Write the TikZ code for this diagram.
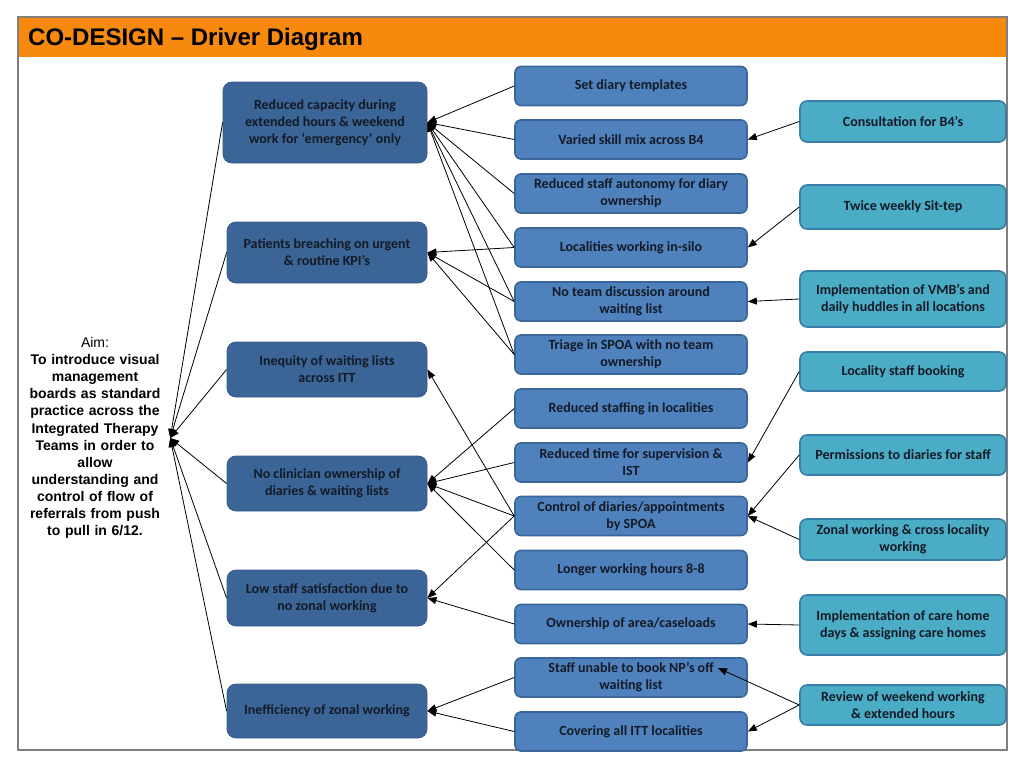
\documentclass[tikz,border=0pt]{standalone}
\usepackage{fontspec}
\setmainfont{Carlito}
\newfontfamily\arialf{Liberation Sans}
\usetikzlibrary{arrows.meta}
\definecolor{orangebar}{HTML}{F7890E}
\definecolor{primfill}{HTML}{3B6597}
\definecolor{primdraw}{HTML}{375D8C}
\definecolor{secfill}{HTML}{4F81BD}
\definecolor{secdraw}{HTML}{3A6699}
\definecolor{chgfill}{HTML}{4BACC6}
\definecolor{chgdraw}{HTML}{3A7DA8}
\definecolor{txt}{HTML}{141A26}
\definecolor{framegray}{HTML}{7F7F7F}
\begin{document}
\begin{tikzpicture}[x=1pt,y=-1pt,
 boxtext/.style={font=\fontsize{14}{17}\selectfont\bfseries, text=txt, align=center, inner sep=0pt},
 prim/.style={boxtext, rounded corners=9pt, fill=primfill, draw=primdraw, line width=0.8pt, minimum width=200pt},
 sec/.style={boxtext, rounded corners=6pt, fill=secfill, draw=secdraw, line width=1.6pt, minimum width=232pt, minimum height=39pt},
 chg/.style={boxtext, rounded corners=7pt, fill=chgfill, draw=chgdraw, line width=1.6pt, minimum width=206pt},
 conn/.style={draw=black, line width=0.8pt, -{Triangle[length=9pt,width=7pt]}},
]
\useasboundingbox (0,0) rectangle (1024,768);
\fill[white] (0,0) rectangle (1024,768);
\node[fill=orangebar, minimum width=989pt, minimum height=40pt, inner sep=0pt, anchor=north west] (bar) at (18,17) {};
\node[anchor=west, inner sep=0pt, font=\arialf\fontsize{24}{28}\selectfont\bfseries] (title) at (28,39.5) {CO-DESIGN – Driver Diagram};
\draw[framegray, line width=1.2pt] (18,17) rectangle (1007,750);

% Aim
\node[align=center, font=\arialf\fontsize{14}{17.1}\selectfont, inner sep=0pt, text width=150pt] (aim) at (95,438)
 {Aim:\\ \textbf{To introduce visual}\\ \textbf{management}\\ \textbf{boards as standard}\\ \textbf{practice across the}\\ \textbf{Integrated Therapy}\\ \textbf{Teams in order to}\\ \textbf{allow}\\ \textbf{understanding and}\\ \textbf{control of flow of}\\ \textbf{referrals from push}\\ \textbf{to pull in 6/12.}};

% Primary drivers
\node[prim, minimum width=204pt, minimum height=81pt] (P1) at (325,122.5) {Reduced capacity during\\ extended hours \& weekend\\ work for ‘emergency’ only};
\node[prim, minimum height=61pt] (P2) at (327,252.5) {Patients breaching on urgent\\ \& routine KPI’s};
\node[prim, minimum height=55pt] (P3) at (327,369.5) {Inequity of waiting lists\\ across ITT};
\node[prim, minimum height=55pt] (P4) at (327,483.5) {No clinician ownership of\\ diaries \& waiting lists};
\node[prim, minimum height=56pt] (P5) at (327,598) {Low staff satisfaction due to\\ no zonal working};
\node[prim, minimum height=54pt] (P6) at (327,711) {Inefficiency of zonal working};

% Secondary drivers
\node[sec] (S1) at (631,86) {Set diary templates};
\node[sec] (S2) at (631,139.5) {Varied skill mix across B4};
\node[sec] (S3) at (631,193.5) {Reduced staff autonomy for diary\\ ownership};
\node[sec] (S4) at (631,247.5) {Localities working in-silo};
\node[sec] (S5) at (631,301.5) {No team discussion around\\ waiting list};
\node[sec] (S6) at (631,354.5) {Triage in SPOA with no team\\ ownership};
\node[sec] (S7) at (631,408.5) {Reduced staffing in localities};
\node[sec] (S8) at (631,462.5) {Reduced time for supervision \&\\ IST};
\node[sec] (S9) at (631,516) {Control of diaries/appointments\\ by SPOA};
\node[sec] (S10) at (631,570) {Longer working hours 8-8};
\node[sec] (S11) at (631,624) {Ownership of area/caseloads};
\node[sec] (S12) at (631,677.5) {Staff unable to book NP’s off\\ waiting list};
\node[sec] (S13) at (631,731.5) {Covering all ITT localities};

% Change ideas
\node[chg, minimum height=41pt] (C1) at (903,121.5) {Consultation for B4’s};
\node[chg, minimum height=44pt] (C2) at (903,207) {Twice weekly Sit-tep};
\node[chg, minimum height=56pt] (C3) at (903,299) {Implementation of VMB’s and\\ daily huddles in all locations};
\node[chg, minimum height=39pt] (C4) at (903,371.5) {Locality staff booking};
\node[chg, minimum height=40pt] (C5) at (903,455) {Permissions to diaries for staff};
\node[chg, minimum height=41pt] (C6) at (903,539.5) {Zonal working \& cross locality\\ working};
\node[chg, minimum height=60pt] (C7) at (903,625) {Implementation of care home\\ days \& assigning care homes};
\node[chg, minimum height=40pt] (C8) at (903,705) {Review of weekend working\\ \& extended hours};
\coordinate (s12tip) at (718,668);

% Aim connectors
\foreach \p in {P1,P2,P3,P4,P5,P6} \draw[conn] (\p.west) -- (aim.east);

% Secondary -> primary
\foreach \s in {S1,S2,S3,S4,S5,S6} \draw[conn] (\s.west) -- (P1.east);
\foreach \s in {S4,S5,S6} \draw[conn] (\s.west) -- (P2.east);
\draw[conn] (S9.west) -- (P3.east);
\foreach \s in {S7,S8,S9,S10} \draw[conn] (\s.west) -- (P4.east);
\foreach \s in {S9,S11} \draw[conn] (\s.west) -- (P5.east);
\foreach \s in {S12,S13} \draw[conn] (\s.west) -- (P6.east);

% Change -> secondary
\draw[conn] (C1.west) -- (S2.east);
\draw[conn] (C2.west) -- (S4.east);
\draw[conn] (C3.west) -- (S5.east);
\draw[conn] (C4.west) -- (S8.east);
\draw[conn] (C5.west) -- (S9.east);
\draw[conn] (C6.west) -- (S9.east);
\draw[conn] (C7.west) -- (S11.east);
\draw[conn] (C8.west) -- (s12tip);
\draw[conn] (C8.west) -- (S13.east);
\end{tikzpicture}
\end{document}
